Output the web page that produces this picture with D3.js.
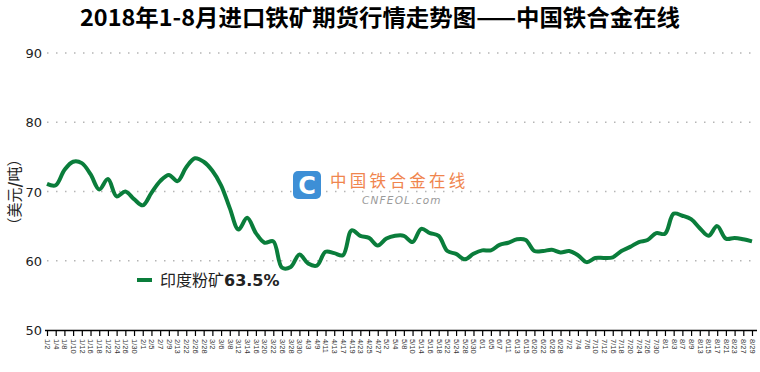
<!DOCTYPE html>
<meta charset="utf-8">
<body style="margin:0;background:#fff">
<div id="chart"></div>
<script src="https://d3js.org/d3.v7.min.js"></script>
<script>
const dates = ["1/2","1/4","1/8","1/10","1/12","1/16","1/18","1/22","1/24","1/26","1/30",
  "2/1","2/5","2/7","2/9","2/13","2/22","2/26","2/28",
  "3/2","3/6","3/8","3/12","3/14","3/16","3/20","3/22","3/26","3/28","3/30",
  "4/3","4/9","4/11","4/13","4/17","4/19","4/23","4/25","4/27",
  "5/2","5/4","5/8","5/10","5/14","5/16","5/18","5/22","5/24","5/28","5/30",
  "6/1","6/5","6/7","6/11","6/13","6/15","6/20","6/22","6/26","6/28",
  "7/2","7/4","7/6","7/10","7/12","7/16","7/18","7/20","7/24","7/26","7/30",
  "8/1","8/3","8/7","8/9","8/13","8/15","8/17","8/21","8/23","8/27","8/29"];
const price = [71.1,70.9,73.1,74.3,74.1,72.5,70.3,71.8,69.3,70.0,68.9,
  68.0,69.8,71.5,72.4,71.5,73.5,74.8,74.3,
  73.0,70.9,67.6,64.5,66.2,64.0,62.6,62.8,59.0,59.1,60.9,
  59.6,59.3,61.3,61.1,60.8,64.4,63.6,63.3,62.2,
  63.2,63.6,63.6,62.7,64.6,64.0,63.6,61.4,61.0,60.2,61.0,
  61.5,61.5,62.3,62.6,63.1,63.0,61.4,61.4,61.6,61.2,
  61.4,60.8,59.8,60.4,60.4,60.5,61.4,62.0,62.7,63.0,64.0,
  63.9,66.8,66.5,66.0,64.7,63.6,65.0,63.2,63.3,63.1,62.8];
const yTicks = [50, 60, 70, 80, 90];
const seriesName = "印度粉矿";
const seriesGrade = "63.5%";

const width = 760, height = 372;
const svg = d3.select("#chart").append("svg")
  .attr("width", width).attr("height", height)
  .style("font-family", "'DejaVu Sans', sans-serif");

const x = d3.scalePoint().domain(dates).range([47, 752]);
const y = d3.scaleLinear().domain([50, 90]).range([330, 53]);

// title
svg.append("text")
  .attr("x", 80).attr("y", 26)
  .attr("textLength", 600).attr("lengthAdjust", "spacingAndGlyphs")
  .style("font-family", "'Liberation Sans Narrow', 'Noto Sans CJK SC', sans-serif")
  .style("font-weight", "bold").style("font-size", "23px")
  .text("2018年1-8月进口铁矿期货行情走势图——中国铁合金在线");

// grid
svg.append("g").selectAll("line")
  .data(yTicks.slice(1)).join("line")
  .attr("x1", 47).attr("x2", 757)
  .attr("y1", d => y(d)).attr("y2", d => y(d))
  .attr("stroke", "#b5b5b5").attr("stroke-width", 1.3)
  .attr("stroke-dasharray", "1.5,7.5");

// y labels
svg.append("g").selectAll("text")
  .data(yTicks).join("text")
  .attr("x", 42).attr("y", d => y(d) + 5)
  .attr("text-anchor", "end")
  .style("font-size", "13px").attr("fill", "#222")
  .text(d => d);

const yl = svg.append("text")
  .attr("transform", "translate(20,192) rotate(-90)")
  .attr("text-anchor", "middle")
  .style("font-family", "'Noto Sans CJK SC', sans-serif")
  .style("font-size", "15px").attr("fill", "#222");
yl.append("tspan").text("（美元");
yl.append("tspan").style("font-weight", "bold").text("/");
yl.append("tspan").text("吨）");

// watermark
const wm = svg.append("g");
wm.append("rect").attr("x", 293).attr("y", 171).attr("width", 28).attr("height", 28)
  .attr("rx", 5).attr("fill", "#3d8fd6");
wm.append("text").attr("x", 307).attr("y", 194).attr("text-anchor", "middle")
  .style("font-family", "'DejaVu Sans', sans-serif").style("font-weight", "bold")
  .style("font-size", "24px").attr("fill", "#fff").text("C");
wm.append("text").attr("x", 330).attr("y", 187)
  .style("font-family", "'Noto Sans CJK SC', sans-serif")
  .style("font-size", "16.5px").style("letter-spacing", "3.3px")
  .attr("fill", "#f0854e").text("中国铁合金在线");
wm.append("text").attr("x", 362).attr("y", 204)
  .style("font-size", "10.5px").style("font-style", "italic").style("letter-spacing", "1.2px")
  .attr("fill", "#9a9a9a").text("CNFEOL.com");

// x axis
const xAxis = d3.axisBottom(x).tickSize(6).tickSizeOuter(0).tickFormat(d => d);
const gx = svg.append("g").attr("transform", "translate(0,330)").call(xAxis);
gx.select(".domain").attr("d", "M45,0.5H757").attr("stroke", "#000").attr("stroke-width", 1.5);
gx.selectAll(".tick line").attr("stroke", "#000").attr("stroke-width", 1.2);
gx.selectAll(".tick text")
  .attr("transform", "rotate(90)")
  .attr("x", 9).attr("y", 0).attr("dy", "0.35em")
  .attr("text-anchor", "start")
  .style("font-size", "7.5px").attr("fill", "#333");

// line
const line = d3.line()
  .x((d, i) => x(dates[i])).y(d => y(d))
  .curve(d3.curveCatmullRom.alpha(0.5));
svg.append("path").datum(price)
  .attr("d", line).attr("fill", "none")
  .attr("stroke", "#0a7d3b").attr("stroke-width", 4)
  .attr("stroke-linejoin", "round");

// legend
svg.append("line").attr("x1", 137).attr("x2", 152).attr("y1", 280).attr("y2", 280)
  .attr("stroke", "#0a7d3b").attr("stroke-width", 4);
const lt = svg.append("text").attr("x", 160).attr("y", 286)
  .style("font-family", "'Noto Sans CJK SC', sans-serif").style("font-size", "16px")
  .attr("fill", "#222");
lt.append("tspan").text(seriesName);
lt.append("tspan").style("font-weight", "bold").style("font-family", "'DejaVu Sans', sans-serif")
  .text(seriesGrade);
</script>
</body>
